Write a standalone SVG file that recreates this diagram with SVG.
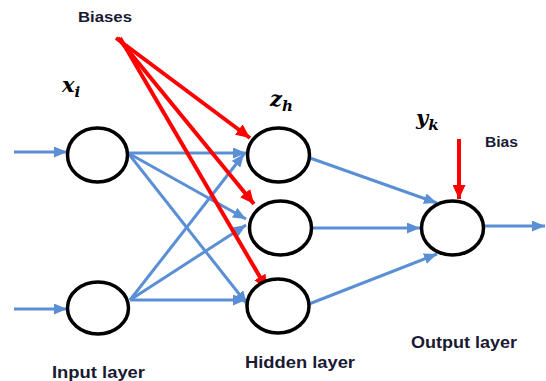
<svg xmlns="http://www.w3.org/2000/svg" width="546" height="381" viewBox="0 0 546 381">
<style>
.node{fill:#fff;stroke:#000;stroke-width:3.5}
.blue{stroke:#5A8FD6;stroke-width:3;fill:none;marker-end:url(#ab)}
.red{stroke:#FF0000;stroke-width:4;fill:none;marker-end:url(#ar)}
.lbl{font-family:"Liberation Sans",Arial,sans-serif;font-weight:bold;fill:#1a1a33}
.math{font-family:"DejaVu Serif","Liberation Serif",serif;font-weight:bold;font-style:italic;fill:#000}
</style>
<defs>
<marker id="ab" markerUnits="userSpaceOnUse" markerWidth="13" markerHeight="11" refX="13" refY="5.5" orient="auto">
<path d="M0,0 L13,5.5 L0,11 z" fill="#5A8FD6"/>
</marker>
<marker id="ar" markerUnits="userSpaceOnUse" markerWidth="14" markerHeight="13" refX="14" refY="6.5" orient="auto">
<path d="M0,0 L14,6.5 L0,13 z" fill="#FF0000"/>
</marker>
</defs>
<g id="connectors">
<line class="blue" x1="14" y1="152" x2="67" y2="152"/>
<line class="blue" x1="14" y1="309" x2="67" y2="309"/>
<line class="blue" x1="128" y1="153" x2="246" y2="153"/>
<line class="blue" x1="128" y1="153" x2="246" y2="219"/>
<line class="blue" x1="128" y1="153" x2="247" y2="304"/>
<line class="blue" x1="130" y1="300" x2="244" y2="154"/>
<line class="blue" x1="130" y1="300" x2="246" y2="225"/>
<line class="blue" x1="130" y1="300" x2="246" y2="300"/>
<line class="blue" x1="310" y1="158" x2="437" y2="203"/>
<line class="blue" x1="312" y1="228" x2="420" y2="228"/>
<line class="blue" x1="309" y1="304" x2="437" y2="254"/>
<line class="blue" x1="484" y1="226" x2="545" y2="226"/>
<line class="red" x1="116" y1="38" x2="250" y2="138"/>
<line class="red" x1="118" y1="38" x2="254" y2="204"/>
<line class="red" x1="120" y1="38" x2="267" y2="289"/>
<line class="red" x1="459" y1="139" x2="459" y2="199"/>
</g>
<g id="in1"><ellipse class="node" cx="97.5" cy="155" rx="30" ry="27"/></g>
<g id="in2"><ellipse class="node" cx="98" cy="308" rx="30.5" ry="26"/></g>
<g id="h1"><ellipse class="node" cx="278.5" cy="155" rx="31" ry="27"/></g>
<g id="h2"><ellipse class="node" cx="280.5" cy="228" rx="31" ry="27"/></g>
<g id="h3"><ellipse class="node" cx="278" cy="306" rx="31" ry="27"/></g>
<g id="out"><ellipse class="node" cx="452.5" cy="228" rx="31" ry="27"/></g>
<g id="labels">
<text class="lbl" x="78" y="22" font-size="15" textLength="54" lengthAdjust="spacingAndGlyphs">Biases</text>
<text class="lbl" x="485" y="147" font-size="14" textLength="33" lengthAdjust="spacingAndGlyphs">Bias</text>
<text class="lbl" x="52" y="378" font-size="16" textLength="93" lengthAdjust="spacingAndGlyphs">Input layer</text>
<text class="lbl" x="245" y="368" font-size="16" textLength="110" lengthAdjust="spacingAndGlyphs">Hidden layer</text>
<text class="lbl" x="411" y="348" font-size="16" textLength="106" lengthAdjust="spacingAndGlyphs">Output layer</text>
<text class="math" x="62" y="92" font-size="21">x<tspan font-size="15" dy="5">i</tspan></text>
<text class="math" x="270" y="106" font-size="21">z<tspan font-size="15" dy="5">h</tspan></text>
<text class="math" x="416" y="125" font-size="21">y<tspan font-size="15" dy="5">k</tspan></text>
</g>
</svg>
